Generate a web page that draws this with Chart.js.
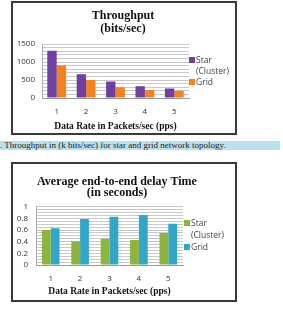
<!DOCTYPE html>
<html>
<head>
<meta charset="utf-8">
<script src="https://cdn.jsdelivr.net/npm/chart.js@4.4.0/dist/chart.umd.min.js"></script>
<style>
    body { margin: 0; width: 283px; height: 309px; background: #fff; position: relative; overflow: hidden; }
    .frame { position: absolute; left: 11px; width: 222px; border: 2px solid #3a3a3a; background: #fff; }
    .frame canvas { position: absolute; left: 0; top: 0; }
    .legend { position: absolute; font: 8.5px "Open Sans", sans-serif; color: #444; }
    .legend span.box { display: inline-block; width: 6px; height: 6px; margin-right: 1px; vertical-align: 0px; }
    .caption { position: absolute; left: 0; top: 141px; width: 280px; height: 9px; background: #b9e0ec;
        font: 9px "Liberation Serif", serif; color: #222; line-height: 9px; white-space: nowrap; }
</style>
</head>
<body>
<div class="frame" style="top:1px;height:130px;"><canvas id="throughput-chart" width="222" height="130"></canvas>
    <div class="legend" style="left:176px;top:51px;line-height:11px;">
        <div><span class="box" style="background:#7040a0"></span>Star</div>
        <div style="padding-left:7px">(Cluster)</div>
        <div><span class="box" style="background:#f58220"></span>Grid</div>
    </div>
</div>
<div class="caption">. Throughput in (k bits/sec) for star and grid network topology.</div>
<div class="frame" style="top:162px;height:136px;"><canvas id="delay-chart" width="222" height="136"></canvas>
    <div class="legend" style="left:171px;top:53px;line-height:12px;">
        <div><span class="box" style="background:#8db43e"></span>Star</div>
        <div style="padding-left:7px">(Cluster)</div>
        <div><span class="box" style="background:#31a6c8"></span>Grid</div>
    </div>
</div>
<script>
const categories = ['1', '2', '3', '4', '5'];
const throughputStar = [1320, 665, 458, 328, 262];
const throughputGrid = [905, 505, 300, 225, 205];
const delayStar = [0.60, 0.41, 0.45, 0.43, 0.55];
const delayGrid = [0.63, 0.79, 0.83, 0.86, 0.71];
const throughputTicks = [0, 500, 1000, 1500];
const delayTicks = [0, 0.2, 0.4, 0.6, 0.8, 1];

const serif = '"Liberation Serif", serif';
const sans = '"Open Sans", sans-serif';

function makeChart(id, cfg) {
    const ctx = document.getElementById(id).getContext('2d');
    return new Chart(ctx, {
        type: 'bar',
        data: {
            labels: categories,
            datasets: [
                { label: 'Star (Cluster)', data: cfg.star, backgroundColor: cfg.starColor },
                { label: 'Grid', data: cfg.grid, backgroundColor: cfg.gridColor }
            ]
        },
        options: {
            responsive: false,
            animation: false,
            layout: { padding: { left: 0, right: cfg.padRight, top: 0, bottom: 0 } },
            categoryPercentage: cfg.catPct,
            barPercentage: 1.0,
            plugins: {
                legend: { display: false },
                tooltip: { enabled: false },
                title: {
                    display: true,
                    text: cfg.title,
                    color: '#111',
                    font: { family: serif, size: 12, weight: 'bold', lineHeight: cfg.titleLine },
                    padding: cfg.titlePad
                }
            },
            scales: {
                x: {
                    grid: { display: false, drawTicks: false },
                    border: { color: '#999' },
                    ticks: { color: '#333', font: { family: sans, size: 8 }, padding: 9 },
                    title: {
                        display: true,
                        text: 'Data Rate in Packets/sec (pps)',
                        color: '#111',
                        font: { family: serif, size: 9.5, weight: 'bold' },
                        padding: { top: 0, bottom: cfg.xTitleBottom }
                    },
                    afterFit: s => { s.height = cfg.xHeight; }
                },
                y: {
                    min: 0,
                    max: cfg.max,
                    grid: { color: '#c8c8c8', drawTicks: false },
                    border: { color: '#aaa' },
                    ticks: {
                        stepSize: cfg.step,
                        autoSkip: false,
                        color: '#333',
                        font: { family: sans, size: 8 },
                        padding: cfg.yPad,
                        callback: value => cfg.labelTicks.some(t => Math.abs(t - value) < 1e-6) ? String(+value.toFixed(2)) : ''
                    },
                    afterFit: s => { s.width = cfg.yWidth; }
                },
                // empty right axis keeps room for the html legend
                y2: {
                    position: 'right',
                    display: true,
                    grid: { display: false },
                    border: { display: false },
                    ticks: { display: false },
                    afterFit: s => { s.width = cfg.legendWidth; }
                }
            }
        }
    });
}

makeChart('throughput-chart', {
    title: ['Throughput', '(bits/sec)'],
    star: throughputStar, grid: throughputGrid,
    starColor: '#7040a0', gridColor: '#f58220',
    max: 1500, step: 100, labelTicks: throughputTicks,
    padRight: 2, legendWidth: 44, yWidth: 29, yPad: 7,
    xHeight: 35, xTitleBottom: 1,
    titleLine: 1.05, titlePad: { top: 7, bottom: 9 },
    catPct: 0.64
});
makeChart('delay-chart', {
    title: ['Average end-to-end delay Time', '(in seconds)'],
    star: delayStar, grid: delayGrid,
    starColor: '#8db43e', gridColor: '#31a6c8',
    max: 1, step: 0.05, labelTicks: delayTicks,
    padRight: 14, legendWidth: 38, yWidth: 23, yPad: 8,
    xHeight: 35, xTitleBottom: 3,
    titleLine: 0.95, titlePad: { top: 12, bottom: 8 },
    catPct: 0.6
});
</script>
</body>
</html>
